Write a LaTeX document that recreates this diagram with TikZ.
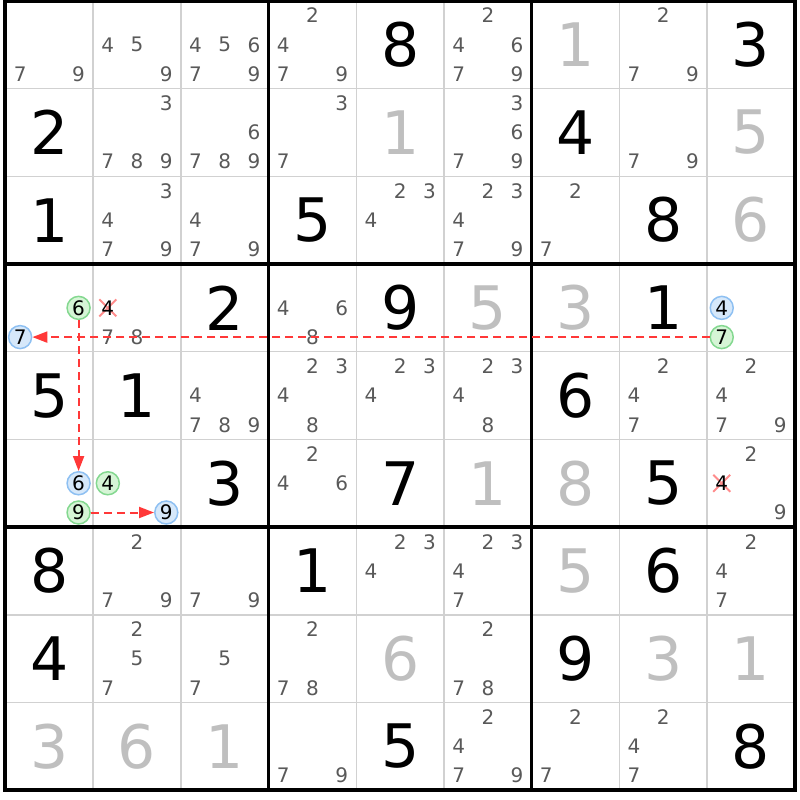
\documentclass[tikz,border=0pt]{standalone}
\usepackage{fontspec}
\setmainfont{DejaVu Sans}
\usepackage{tikz}
\usetikzlibrary{arrows.meta,shapes.misc}
\newcommand{\clrgiven}{black}
\newcommand{\clrsolved}{black!25}
\newcommand{\clrcand}{black!65}
\definecolor{bluefill}{HTML}{D6E8FA}
\definecolor{blueline}{HTML}{8EC0F2}
\definecolor{greenfill}{HTML}{D6F5D6}
\definecolor{greenline}{HTML}{84D890}
\definecolor{linkred}{HTML}{FF3838}

\begin{document}
\begin{tikzpicture}[x=43.85pt, y=-43.85pt,
    big/.style = {inner sep=0pt, font=\fontsize{30}{30}\selectfont},
    cand/.style = {inner sep=0pt, font=\fontsize{10}{10}\selectfont, text=\clrcand},
    ringed/.style = {circle, line width=0.75pt, minimum size=11.5pt, inner sep=0pt, font=\fontsize{10}{10}\selectfont},
    bluecand/.style = {ringed, draw=blueline, fill=bluefill},
    greencand/.style = {ringed, draw=greenline, fill=greenfill},
    crossmark/.style = {cross out, draw=red!45, line width=1pt, minimum size=7.5pt, inner sep=0pt},
    link/.style = {draw=linkred, line width=1pt, dash pattern=on 4pt off 2.5pt, -{Triangle[length=7.5pt,width=5.5pt]}}]
    \useasboundingbox (-0.0627,-0.0103) rectangle (9.059,9.111);
%grid
    \foreach \i in {1,2,4,5,7,8} {
        \draw[black!18, line width=0.75pt] (\i,0) -- (\i,9);
        \draw[black!18, line width=0.75pt] (0,\i) -- (9,\i);
    }
    \foreach \i in {3,6} {
        \draw[line width=1.75pt] (\i,0) -- (\i,9);
        \draw[line width=1.75pt] (0,\i) -- (9,\i);
    }
    \draw[line width=2pt] (0,0) rectangle (9,9);
%givens
    \foreach \cx/\ry/\dg in {4/0/8, 8/0/3, 0/1/2, 6/1/4, 0/2/1, 3/2/5, 7/2/8,
        2/3/2, 4/3/9, 7/3/1, 0/4/5, 1/4/1, 6/4/6, 2/5/3, 4/5/7, 7/5/5,
        0/6/8, 3/6/1, 7/6/6, 0/7/4, 6/7/9, 4/8/5, 8/8/8} {
        \node[big, text=\clrgiven] (big\ry\cx) at (\cx+0.5,\ry+0.5) {\dg};
    }
    \foreach \cx/\ry/\dg in {6/0/1, 4/1/1, 8/1/5, 8/2/6, 5/3/5, 6/3/3, 5/5/1, 6/5/8,
        6/6/5, 4/7/6, 7/7/3, 8/7/1, 0/8/3, 1/8/6, 2/8/1} {
        \node[big, text=\clrsolved] (big\ry\cx) at (\cx+0.5,\ry+0.5) {\dg};
    }
%candidates
    \foreach \cx/\ry/\list in {0/0/{7,9}, 1/0/{4,5,9}, 2/0/{4,5,6,7,9}, 3/0/{2,4,7,9},
        5/0/{2,4,6,7,9}, 7/0/{2,7,9}, 1/1/{3,7,8,9}, 2/1/{6,7,8,9}, 3/1/{3,7},
        5/1/{3,6,7,9}, 7/1/{7,9}, 1/2/{3,4,7,9}, 2/2/{4,7,9}, 4/2/{2,3,4},
        5/2/{2,3,4,7,9}, 6/2/{2,7}, 1/3/{7,8}, 3/3/{4,6,8}, 2/4/{4,7,8,9},
        3/4/{2,3,4,8}, 4/4/{2,3,4}, 5/4/{2,3,4,8}, 7/4/{2,4,7}, 8/4/{2,4,7,9},
        3/5/{2,4,6}, 8/5/{2,9}, 1/6/{2,7,9}, 2/6/{7,9}, 4/6/{2,3,4}, 5/6/{2,3,4,7},
        8/6/{2,4,7}, 1/7/{2,5,7}, 2/7/{5,7}, 3/7/{2,7,8}, 5/7/{2,7,8},
        3/8/{7,9}, 5/8/{2,4,7,9}, 6/8/{2,7}, 7/8/{2,4,7}} {
        \foreach \dg in \list {
            \pgfmathsetmacro{\px}{\cx+(mod(\dg-1,3)+0.5)/3}
            \pgfmathsetmacro{\py}{\ry+(floor((\dg-1)/3)+0.5)/3}
            \node[cand] (cand\ry\cx\dg) at (\px,\py) {\dg};
        }
    }
%eliminations
    \node[crossmark] (cross314) at (1+0.5/3,3+1.5/3) {};
    \node[inner sep=0pt, font=\fontsize{10}{10}\selectfont] (cand314) at (cross314) {4};
    \node[crossmark] (cross584) at (8+0.5/3,5+1.5/3) {};
    \node[inner sep=0pt, font=\fontsize{10}{10}\selectfont] (cand584) at (cross584) {4};
%chain
    \node[greencand] (cand306) at (2.5/3,3+1.5/3) {6};
    \node[bluecand] (cand307) at (0.5/3,3+2.5/3) {7};
    \node[bluecand] (cand384) at (8+0.5/3,3+1.5/3) {4};
    \node[greencand] (cand387) at (8+0.5/3,3+2.5/3) {7};
    \node[bluecand] (cand506) at (2.5/3,5+1.5/3) {6};
    \node[greencand] (cand509) at (2.5/3,5+2.5/3) {9};
    \node[greencand] (cand514) at (1+0.5/3,5+1.5/3) {4};
    \node[bluecand] (cand519) at (1+2.5/3,5+2.5/3) {9};
    \draw[link] (cand387) -- (cand307);
    \draw[link] (cand306) -- (cand506);
    \draw[link] (cand509) -- (cand519);
\end{tikzpicture}
\end{document}
